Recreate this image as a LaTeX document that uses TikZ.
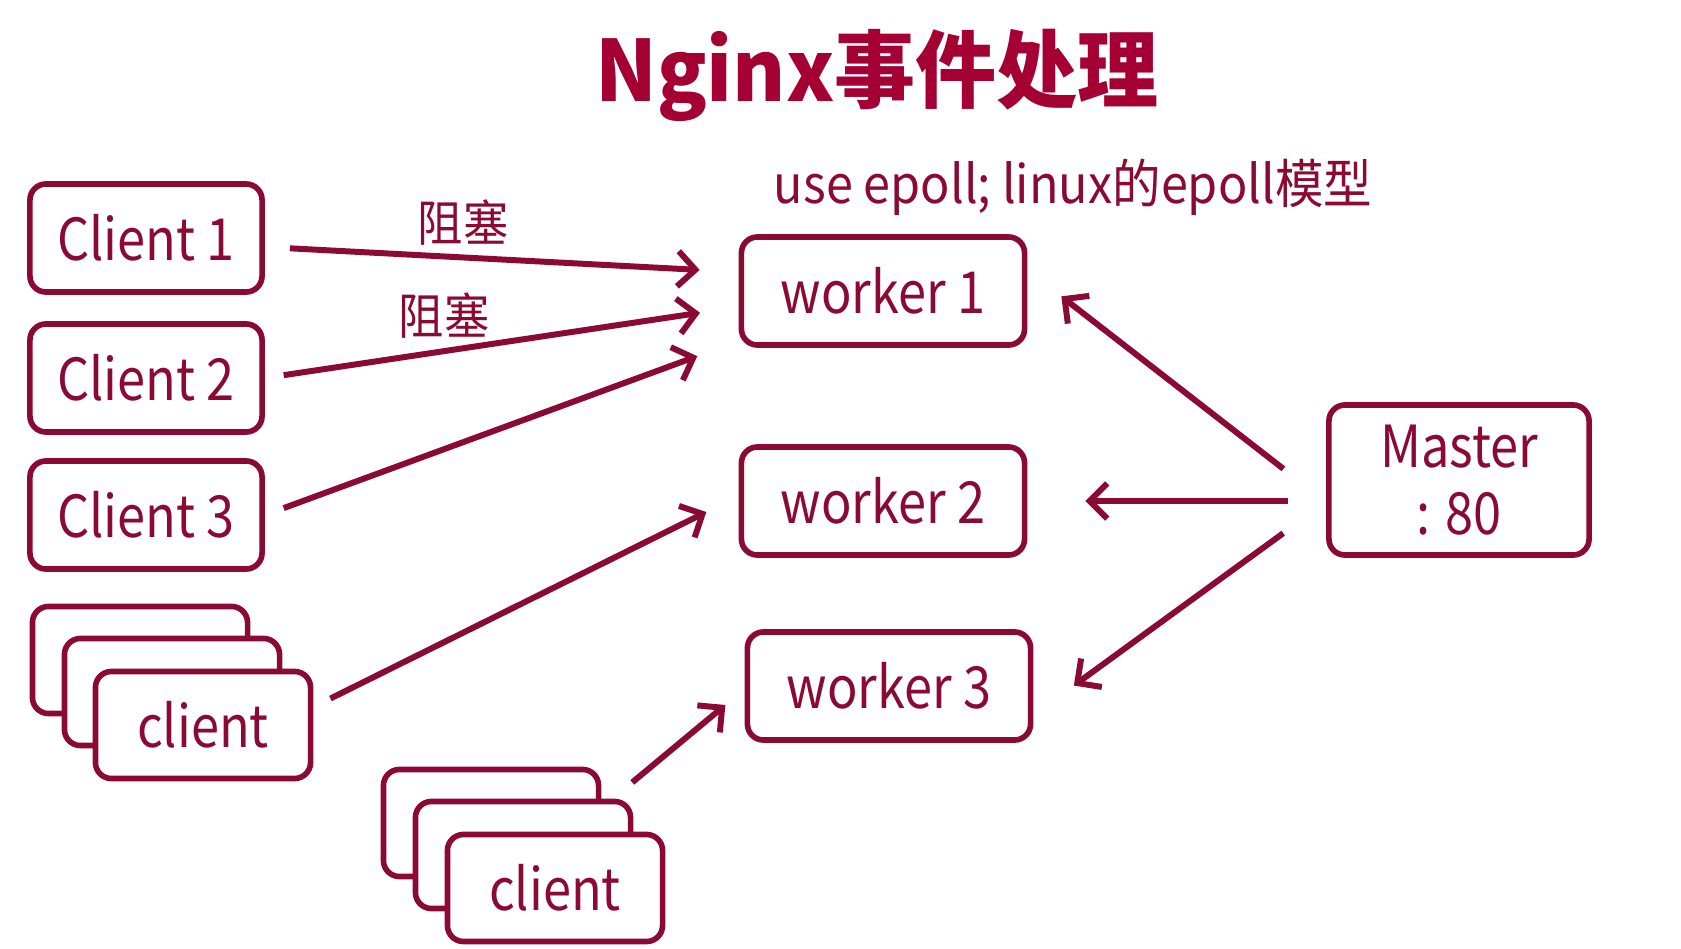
\documentclass[tikz,border=0pt]{standalone}
\usepackage{fontspec}
\setmainfont{Noto Sans CJK SC}
\newfontfamily\boxfont[FakeStretch=0.87]{Noto Sans CJK SC}
\newfontfamily\notefont[FakeStretch=0.92]{Noto Sans CJK SC}
\newfontfamily\titlefont[FakeStretch=0.96]{Noto Sans CJK SC}
\usepackage{xcolor}
\usetikzlibrary{arrows.meta, positioning, calc}
\definecolor{Maroon1}{RGB}{139,10,52}
\definecolor{TitleRed}{RGB}{165,0,52}
\tikzset{
  boxR/.style={rectangle, rounded corners=0.16cm, draw=Maroon1, fill=white,
               line width=1.6pt, minimum width=2.32cm, minimum height=1.08cm,
               font=\boxfont\fontsize{16.5}{19}\selectfont, text=Maroon1},
  workerB/.style={boxR, minimum width=2.83cm},
  masterB/.style={boxR, minimum width=2.6cm, minimum height=1.5cm, align=center},
  stackB/.style={boxR, minimum width=2.15cm, minimum height=1.07cm},
  arrowR/.style={draw=Maroon1, line width=1.7pt,
                 -{Straight Barb[length=5pt,width=10pt]}},
  labelR/.style={text=Maroon1, font=\notefont\fontsize{14}{16}\selectfont},
}

\begin{document}
\begin{tikzpicture}[x=0.01cm, y=-0.01cm]
    \useasboundingbox (0,0) rectangle (1681,949);
    %% title
    \node[text=TitleRed, font=\titlefont\fontsize{24}{28}\selectfont\bfseries] (title) at (877,75) {Nginx事件处理};
    \node[labelR, font=\notefont\fontsize{15}{18}\selectfont] (note) at (1073,187) {use epoll; linux的epoll模型};
    %% clients
    \node[boxR] (c1) at (146,238) {Client 1};
    \node[boxR] (c2) at (146,378) {Client 2};
    \node[boxR] (c3) at (146,515) {Client 3};
    %% client stacks
    \node[stackB] (b1) at (140,660) {};
    \node[stackB] (m1) at (172,692) {};
    \node[stackB] (f1) at (203,725) {client};
    \node[stackB] (b2) at (491,823) {};
    \node[stackB] (m2) at (523,855) {};
    \node[stackB] (f2) at (555,888) {client};
    %% workers and master
    \node[workerB] (w1) at (883,291) {worker 1};
    \node[workerB] (w2) at (883,501) {worker 2};
    \node[workerB] (w3) at (889,686) {worker 3};
    \node[masterB] (ms) at (1459,480) {Master\\: 80};
    %% client -> worker
    \draw[arrowR, shorten <=0.25cm, shorten >=0.39cm] ($(c1.east)+(0,9)$) -- ($(w1.west)+(0,-19)$);
    \draw[arrowR, shorten <=0.19cm, shorten >=0.39cm] (c2.east) -- ($(w1.west)+(0,16)$);
    \draw[arrowR, shorten <=0.20cm, shorten >=0.44cm] (c3.east) -- ($(w1.west)+(0,50)$);
    \draw[arrowR, shorten <=0.19cm, shorten >=0.36cm] ($(f1.east)+(0,-18)$) -- ($(w2.west)+(0,-5)$);
    \draw[arrowR, shorten <=0.77cm, shorten >=0.25cm] ($(f2.north)+(18,0)$) -- ($(w3.west)+(0,3)$);
    \node[labelR] (blk1) at (463,223) {阻塞};
    \node[labelR] (blk2) at (444,316) {阻塞};
    %% master -> worker
    \draw[arrowR, shorten <=0.54cm, shorten >=0.43cm] ($(ms.west)+(0,22)$) -- ($(w1.east)+(0,-21)$);
    \draw[arrowR, shorten <=0.38cm, shorten >=0.58cm] ($(ms.west)+(0,21)$) -- (w2.east);
    \draw[arrowR, shorten <=0.53cm, shorten >=0.50cm] ($(ms.west)+(0,22)$) -- ($(w3.east)+(0,29)$);
  \end{tikzpicture}
\end{document}
